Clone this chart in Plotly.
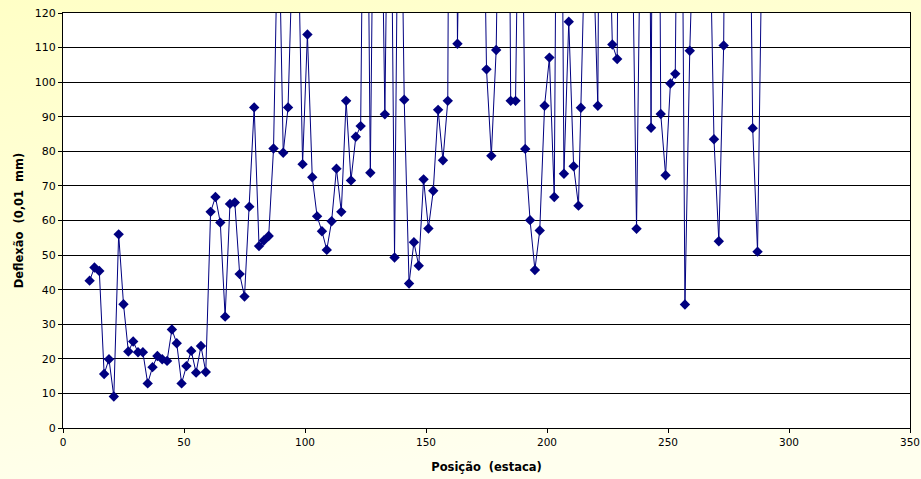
import base64
import plotly.graph_objects as go

# Station positions (estaca)
posicao = [11, 13, 15, 17, 19, 21, 23, 25, 27, 29, 31, 33, 35, 37, 39, 41, 43, 45, 47, 49,
           51, 53, 55, 57, 59, 61, 63, 65, 67, 69, 71, 73, 75, 77, 79, 81, 83, 85, 87, 89,
           91, 93, 95, 97, 99, 101, 103, 105, 107, 109, 111, 113, 115, 117, 119, 121, 123, 125, 127, 129,
           131, 133, 135, 137, 139, 141, 143, 145, 147, 149, 151, 153, 155, 157, 159, 161, 163, 165, 167, 169,
           171, 173, 175, 177, 179, 181, 183, 185, 187, 189, 191, 193, 195, 197, 199, 201, 203, 205, 207, 209,
           211, 213, 214, 216, 219, 221, 223, 225, 227, 229, 231, 233, 235, 237, 239, 241, 243, 245, 247, 249,
           251, 253, 255, 257, 259, 261, 263, 265, 267, 269, 271, 273, 275, 277, 279, 281, 283, 285, 287, 289]

# Deflection (0,01 mm); values above 120 are off the chart (estimated from line slopes)
deflexao = [42.6, 46.4, 45.4, 15.6, 19.9, 9.1, 56.0, 35.8, 22.1, 25.0, 21.9, 21.9, 12.9, 17.6, 20.8, 19.9, 19.4, 28.5, 24.5, 12.9,
            17.9, 22.3, 16.0, 23.7, 16.2, 62.5, 66.8, 59.4, 32.2, 64.8, 65.2, 44.5, 38.0, 64.0, 92.7, 52.6, 54.2, 55.5, 80.8, 155,
            79.6, 92.7, 142, 149, 76.3, 113.8, 72.5, 61.2, 56.9, 51.5, 59.8, 75.0, 62.5, 94.6, 71.6, 84.2, 87.3, 230, 73.8, 210,
            190, 90.7, 207, 49.3, 200, 94.9, 41.8, 53.7, 46.9, 71.9, 57.7, 68.6, 92.0, 77.4, 94.6, 400, 111.1, 300, 300, 280,
            250, 200, 103.7, 78.7, 109.3, 250, 300, 94.6, 94.6, 200, 80.7, 60.1, 45.7, 57.1, 93.2, 107.1, 66.8, 280, 73.5, 117.5,
            75.7, 64.3, 92.6, 150, 140, 93.2, 350, 170, 110.9, 106.7, 300, 250, 155, 57.6, 170, 320, 86.8, 350, 90.8, 73.1,
            99.6, 102.4, 250, 35.7, 109.1, 220, 250, 250, 157, 83.5, 54.0, 110.6, 300, 300, 300, 250, 210, 86.7, 51.0, 150]

assert len(posicao) == len(deflexao)

x_ticks = [0, 50, 100, 150, 200, 250, 300, 350]
y_ticks = [0, 10, 20, 30, 40, 50, 60, 70, 80, 90, 100, 110, 120]

W, H = 921, 479
ML, MR, MT, MB = 63, 11, 13, 51
PW, PH = W - ML - MR, H - MT - MB

svg = (f"<svg xmlns='http://www.w3.org/2000/svg' width='{W}' height='{H}' preserveAspectRatio='none'>"
       "<defs><linearGradient id='g' x1='0' y1='0' x2='0.35' y2='1'>"
       "<stop offset='0' stop-color='#FFFFC6'/><stop offset='1' stop-color='#FFFFEE'/>"
       "</linearGradient></defs>"
       f"<rect width='{W}' height='{H}' fill='url(#g)'/></svg>")
src = "data:image/svg+xml;base64," + base64.b64encode(svg.encode()).decode()

navy = "#000080"
fig = go.Figure()
fig.add_trace(go.Scatter(
    x=posicao, y=deflexao, mode="lines+markers",
    line=dict(color=navy, width=1),
    marker=dict(symbol="diamond", size=8, color=navy),
    cliponaxis=True, showlegend=False, hoverinfo="x+y"))

font_family = "Tahoma, 'DejaVu Sans', sans-serif"
fig.update_layout(
    width=W, height=H,
    margin=dict(l=ML, r=MR, t=MT, b=MB, pad=0, autoexpand=False),
    paper_bgcolor="#FFFFE0",
    plot_bgcolor="white",
    font=dict(family=font_family, size=11, color="black"),
    images=[dict(source=src, xref="paper", yref="paper",
                 x=-ML / PW, y=1 + MT / PH, sizex=W / PW, sizey=H / PH,
                 xanchor="left", yanchor="top", sizing="stretch", layer="below")],
    shapes=[dict(type="rect", xref="paper", yref="paper", x0=0, x1=1, y0=0, y1=1,
                 fillcolor="white", line=dict(width=0), layer="below")],
    xaxis=dict(range=[0, 350], tickvals=x_ticks, ticktext=[str(v) for v in x_ticks],
               automargin=False,
               showgrid=False, zeroline=False, showline=True, linecolor="black", linewidth=1,
               mirror=True, ticks="outside", ticklen=4, tickcolor="black",
               tickfont=dict(size=10.5),
               title=dict(text="<b>Posição  (estaca)</b>", font=dict(size=11.5), standoff=16)),
    yaxis=dict(range=[0, 120], tickvals=y_ticks, ticktext=[str(v) for v in y_ticks],
               automargin=False,
               showgrid=True, gridcolor="black", gridwidth=1, zeroline=False,
               showline=True, linecolor="black", linewidth=1, mirror=True,
               ticks="outside", ticklen=4, tickcolor="black",
               tickfont=dict(size=11),
               title=dict(text="<b>Deflexão  (0,01  mm)</b>", font=dict(size=11.5), standoff=8)),
)

fig.write_html("out.html")
